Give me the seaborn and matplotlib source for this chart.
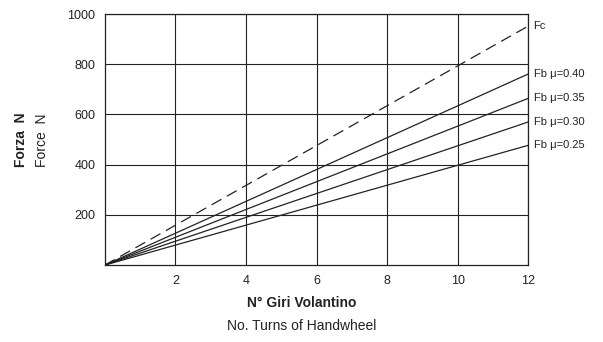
import matplotlib
matplotlib.use("Agg")
import matplotlib.pyplot as plt
import seaborn as sns
import pandas as pd

# ─── DATA ─────────────────────────────────────────────────────────────────────
turns = [0, 12]
fc = [0, 952]
fb_040 = [0, 761]
fb_035 = [0, 664]
fb_030 = [0, 570]
fb_025 = [0, 477]
series_names = ["Fc", "Fb μ=0.40", "Fb μ=0.35", "Fb μ=0.30", "Fb μ=0.25"]
series_vals = [fc, fb_040, fb_035, fb_030, fb_025]
x_ticks = [2, 4, 6, 8, 10, 12]
y_ticks = [200, 400, 600, 800, 1000]

rows = []
for name, vals in zip(series_names, series_vals):
    for x, y in zip(turns, vals):
        rows.append({"turns": x, "force": y, "series": name})
df = pd.DataFrame(rows)

# ─── STYLE ────────────────────────────────────────────────────────────────────
sns.set_theme(style="white")
plt.rcParams["font.family"] = ["Liberation Sans", "DejaVu Sans"]
INK = "#222222"

fig = plt.figure(figsize=(6.03, 3.42), dpi=100)
ax = fig.add_axes([0.174, 0.225, 0.702, 0.734])

for name in series_names:
    sub = df[df["series"] == name]
    sns.lineplot(data=sub, x="turns", y="force", ax=ax, color=INK,
                 linewidth=0.9, linestyle=(0, (9, 5)) if name == "Fc" else "-")
    ax.text(12.15, sub["force"].iloc[-1], name, fontsize=8, color=INK,
            va="center", ha="left")

ax.set_xlim(0, 12)
ax.set_ylim(0, 1000)
ax.set_xticks(x_ticks)
ax.set_yticks(y_ticks)
ax.grid(True, color=INK, linewidth=0.8)
ax.tick_params(length=0, labelsize=9, colors=INK, pad=7)
for s in ax.spines.values():
    s.set_color(INK)
    s.set_linewidth(0.9)
ax.set_xlabel("")
ax.set_ylabel("")

fig.text(0.5, 0.115, "N° Giri Volantino", ha="center", va="center",
         fontsize=10, fontweight="bold", color=INK)
fig.text(0.5, 0.048, "No. Turns of Handwheel", ha="center", va="center",
         fontsize=10, color=INK)
fig.text(0.035, 0.59, "Forza  N", rotation=90, ha="center", va="center",
         fontsize=10, fontweight="bold", color=INK)
fig.text(0.069, 0.59, "Force  N", rotation=90, ha="center", va="center",
         fontsize=10, color=INK)

fig.savefig("out.png", dpi=100)
